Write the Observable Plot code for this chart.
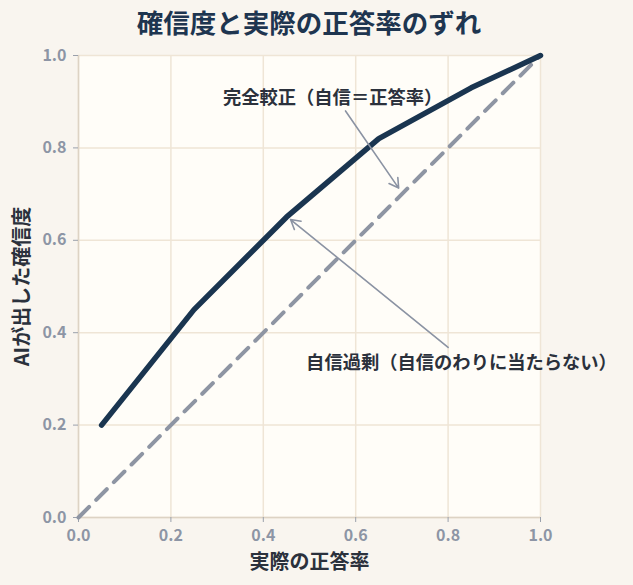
<!DOCTYPE html>
<html><head><meta charset="utf-8">
<script src="https://cdn.jsdelivr.net/npm/d3@7"></script>
<script src="https://cdn.jsdelivr.net/npm/@observablehq/plot@0.6"></script>
<style>
body{margin:0;background:#f9f5ef;font-family:"Noto Sans CJK JP",sans-serif;}
#title{height:45px;line-height:44px;margin-left:78px;width:462px;text-align:center;font-size:26.5px;font-weight:700;color:#1e3550;font-family:"Noto Sans CJK JP",sans-serif;white-space:nowrap;}
#chart svg{display:block;}
</style></head><body>
<div id="title">確信度と実際の正答率のずれ</div>
<div id="chart"></div>
<script>
const actual = [0.05, 0.25, 0.45, 0.65, 0.85, 1.0];
const confidence = [0.2, 0.45, 0.65, 0.82, 0.93, 1.0];
const diagX = [0, 1];
const diagY = [0, 1];
const ticks = [0, 0.2, 0.4, 0.6, 0.8, 1.0];
const xLabel = "実際の正答率";
const yLabel = "AIが出した確信度";
const annoTexts = ["完全較正（自信＝正答率）", "自信過剰（自信のわりに当たらない）"];
const annoTextX = [0.55, 0.829];
const annoTextY = [0.908, 0.335];
const arrowX1 = [0.578, 0.80];
const arrowY1 = [0.88, 0.368];
const arrowX2 = [0.693, 0.459];
const arrowY2 = [0.713, 0.645];

const line = actual.map((x, i) => ({x, y: confidence[i]}));
const diag = diagX.map((x, i) => ({x, y: diagY[i]}));
const annos = annoTexts.map((t, i) => ({t, x: annoTextX[i], y: annoTextY[i], x1: arrowX1[i], y1: arrowY1[i], x2: arrowX2[i], y2: arrowY2[i]}));
const fmt = d3.format(".1f");

const chart = Plot.plot({
  width: 633, height: 540,
  marginTop: 10, marginBottom: 68, marginLeft: 78, marginRight: 93,
  style: {background: "transparent", fontFamily: "'Noto Sans CJK JP',sans-serif", fontSize: "16px", fontWeight: 700, overflow: "visible"},
  x: {domain: [0, 1]},
  y: {domain: [0, 1]},
  marks: [
    Plot.frame({fill: "#fffdf8", stroke: null}),
    Plot.gridX(ticks, {stroke: "#efe5d6", strokeOpacity: 1, strokeWidth: 1.5}),
    Plot.gridY(ticks, {stroke: "#efe5d6", strokeOpacity: 1, strokeWidth: 1.5}),
    Plot.ruleX([0], {stroke: "#ddd3c4", strokeWidth: 1.5}),
    Plot.ruleY([0], {stroke: "#ddd3c4", strokeWidth: 1.5}),
    Plot.axisX(ticks, {tickSize: 5, tickPadding: 7, stroke: "#9aa0ab", fill: "#8d95a5", fontSize: 16, fontWeight: 700, label: null, tickFormat: fmt}),
    Plot.axisY(ticks, {tickSize: 5, tickPadding: 7, stroke: "#9aa0ab", fill: "#8d95a5", fontSize: 16, fontWeight: 700, label: null, tickFormat: fmt}),
    Plot.text([xLabel], {frameAnchor: "bottom", dy: 45, lineAnchor: "middle", text: d => d, fill: "#2b313c", fontSize: 20, fontWeight: 700}),
    Plot.text([yLabel], {frameAnchor: "left", dx: -56, rotate: -90, textAnchor: "middle", lineAnchor: "middle", text: d => d, fill: "#2b313c", fontSize: 20, fontWeight: 700}),
    Plot.line(diag, {x: "x", y: "y", stroke: "#8e95a3", strokeWidth: 4, strokeDasharray: "15,10"}),
    Plot.line(line, {x: "x", y: "y", stroke: "#1a3550", strokeWidth: 5.5, strokeLinecap: "round", strokeLinejoin: "round"}),
    Plot.arrow(annos, {x1: "x1", y1: "y1", x2: "x2", y2: "y2", stroke: "#8b93a3", strokeWidth: 1.6, headLength: 10}),
    Plot.text(annos, {x: "x", y: "y", text: "t", fill: "#2b313c", fontSize: 18.3, fontWeight: 700})
  ]
});
document.getElementById("chart").appendChild(chart);
</script>
</body></html>
